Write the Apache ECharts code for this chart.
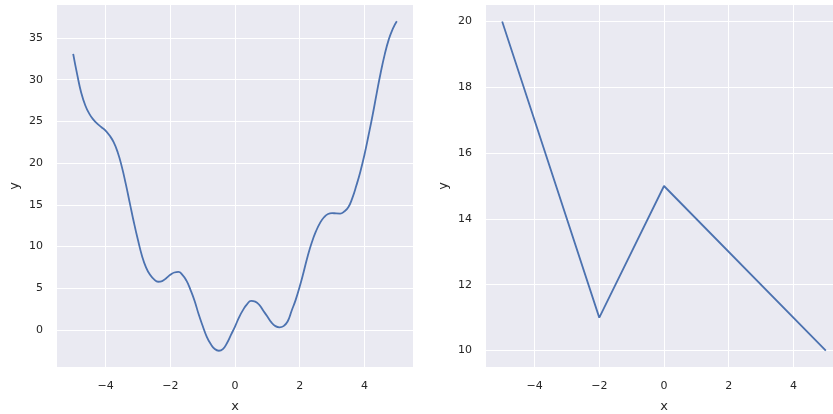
<!DOCTYPE html>
<html>
<head>
<meta charset="utf-8">
<script src="https://cdn.jsdelivr.net/npm/echarts@6/dist/echarts.min.js"></script>
<style>
html,body{margin:0;padding:0;background:#fff;}
#chart{width:833px;height:414px;}
</style>
</head>
<body>
<div id="chart"></div>
<script>
// Left panel: smooth curve
const leftX = [-5.0,-4.875,-4.75,-4.625,-4.5,-4.375,-4.25,-4.125,-4.0,-3.875,-3.75,-3.625,-3.5,-3.375,-3.25,-3.125,-3.0,-2.875,-2.75,-2.625,-2.5,-2.375,-2.25,-2.125,-2.0,-1.875,-1.75,-1.625,-1.5,-1.375,-1.25,-1.125,-1.0,-0.875,-0.75,-0.625,-0.5,-0.375,-0.25,-0.125,0.0,0.125,0.25,0.375,0.5,0.625,0.75,0.875,1.0,1.125,1.25,1.375,1.5,1.625,1.75,1.875,2.0,2.125,2.25,2.375,2.5,2.625,2.75,2.875,3.0,3.125,3.25,3.375,3.5,3.625,3.75,3.875,4.0,4.125,4.25,4.375,4.5,4.625,4.75,4.875,5.0];
const leftY = [33.1,30.6,28.4,26.9,25.9,25.2,24.7,24.3,23.9,23.3,22.5,21.3,19.6,17.5,15.2,12.9,10.8,8.9,7.5,6.6,6.05,5.77,5.85,6.2,6.6,6.88,6.95,6.6,5.9,4.8,3.5,1.9,0.5,-0.8,-1.7,-2.3,-2.5,-2.3,-1.6,-0.6,0.4,1.5,2.4,3.1,3.47,3.38,3.0,2.3,1.6,0.9,0.45,0.3,0.45,1.0,2.3,3.6,5.2,7.0,8.9,10.5,11.8,12.8,13.5,13.9,14.0,13.96,13.95,14.2,14.7,15.8,17.3,19.0,21.0,23.3,25.7,28.3,30.8,33.0,34.8,36.1,37.0];
// Right panel: piecewise linear
const rightX = [-5, -2, 0, 5];
const rightY = [20, 11, 15, 10];
// Tick labels
const xTicks = [-4, -2, 0, 2, 4];
const leftYTicks = [0, 5, 10, 15, 20, 25, 30, 35];
const rightYTicks = [10, 12, 14, 16, 18, 20];

const FONT = 'DejaVu Sans';
const TXT = '#262626';
const BG = '#EAEAF2';
const LINE = '#4C72B0';

function fmt(v){ return (v < 0 ? '\u2212' + Math.abs(v) : String(v)); }

function xAxis(gi){
  return {
    type:'value', gridIndex:gi, min:-5.5, max:5.5,
    name:'x', nameLocation:'middle', nameGap:33,
    nameTextStyle:{fontFamily:FONT, fontSize:13, color:TXT},
    axisLine:{show:false}, axisTick:{show:false, customValues:xTicks},
    axisLabel:{customValues:xTicks, fontFamily:FONT, fontSize:11, color:TXT, margin:14, formatter:fmt},
    splitLine:{show:true, lineStyle:{color:'#ffffff', width:1}}
  };
}
function yAxis(gi, min, max, ticks){
  return {
    type:'value', gridIndex:gi, min:min, max:max,
    name:'y', nameLocation:'middle', nameGap:36, nameRotate:90,
    nameTextStyle:{fontFamily:FONT, fontSize:13, color:TXT},
    axisLine:{show:false}, axisTick:{show:false, customValues:ticks},
    axisLabel:{customValues:ticks, fontFamily:FONT, fontSize:11, color:TXT, margin:14, formatter:fmt},
    splitLine:{show:true, lineStyle:{color:'#ffffff', width:1}}
  };
}

const chart = echarts.init(document.getElementById('chart'), null, {renderer:'canvas'});
chart.setOption({
  animation:false,
  backgroundColor:'#ffffff',
  grid:[
    {left:57, top:5, width:356, height:362, show:true, backgroundColor:BG, borderWidth:0, containLabel:false, outerBoundsMode:'none'},
    {left:486, top:5, width:356, height:362, show:true, backgroundColor:BG, borderWidth:0, containLabel:false, outerBoundsMode:'none'}
  ],
  xAxis:[xAxis(0), xAxis(1)],
  yAxis:[yAxis(0, -4.45, 38.95, leftYTicks), yAxis(1, 9.5, 20.5, rightYTicks)],
  series:[
    {type:'line', xAxisIndex:0, yAxisIndex:0, data:leftX.map((x,i)=>[x,leftY[i]]), smooth:true, showSymbol:false, lineStyle:{color:LINE, width:1.8}},
    {type:'line', xAxisIndex:1, yAxisIndex:1, data:rightX.map((x,i)=>[x,rightY[i]]), smooth:false, showSymbol:false, lineStyle:{color:LINE, width:1.8}}
  ]
});
</script>
</body>
</html>
